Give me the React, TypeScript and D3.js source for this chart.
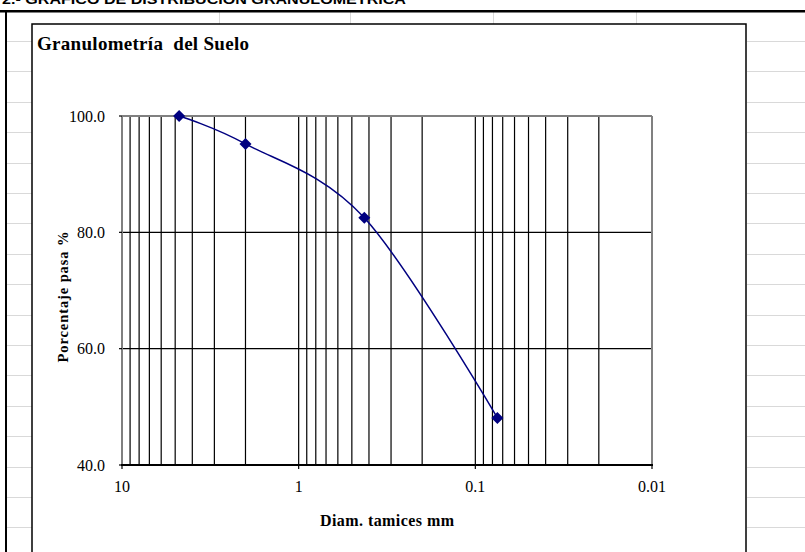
import React from 'react'
import * as d3 from 'd3'

// curva granulometrica
const sieveSizes = [4.75, 2.0, 0.425, 0.075]
const percentPassing = [100.0, 95.2, 82.5, 48.1]
const yTicks = [40, 60, 80, 100]
const xMajor = [10, 1, 0.1, 0.01]
const xTickLabels = ['10', '1', '0.1', '0.01']

const W = 805
const H = 552
const plot = { left: 122, right: 652, top: 116, bottom: 465 }
const sheetRowTop = 41
const sheetRowH = 30.4
const topRowCols = [219, 350, 493, 636]

const navy = '#000080'
const sheetGrid = '#d9d9d9'
const serif = '"Liberation Serif", "Times New Roman", serif'

const App = () => {
  const x = d3.scaleLog().domain([10, 0.01]).range([plot.left, plot.right])
  const y = d3.scaleLinear().domain([40, 100]).range([plot.bottom, plot.top])

  const minor = x.ticks().filter((v) => v < 9.99 && v > 0.0101)

  const pts: [number, number][] = sieveSizes.map((d, i) => [x(d), y(percentPassing[i])])
  const line = d3.line().curve(d3.curveCardinal.tension(0))(pts) || ''
  const marker = d3.symbol().type(d3.symbolSquare).size(72)() || ''

  const rows = d3.range(0, 17).map((i) => sheetRowTop + i * sheetRowH)

  return (
    <svg width={W} height={H} style={{ position: 'absolute', left: 0, top: 0, background: '#fff' }}>
      {/* hoja de calculo */}
      {rows.map((r, i) => (
        <g key={'r' + i}>
          <line x1={7} x2={32} y1={Math.round(r) + 0.5} y2={Math.round(r) + 0.5} stroke={sheetGrid} />
          <line x1={747} x2={W} y1={Math.round(r) + 0.5} y2={Math.round(r) + 0.5} stroke={sheetGrid} />
        </g>
      ))}
      {topRowCols.map((c) => (
        <line key={'c' + c} x1={c + 0.5} x2={c + 0.5} y1={12} y2={24} stroke={sheetGrid} />
      ))}
      <text
        x={2}
        y={4}
        fontFamily='"Liberation Sans", Arial, sans-serif'
        fontWeight="bold"
        fontSize={13}
        textLength={404}
        lengthAdjust="spacingAndGlyphs"
      >
        2.- GRAFICO DE DISTRIBUCION GRANULOMETRICA
      </text>
      <rect x={0} y={10} width={W} height={2.5} fill="#000" />
      <rect x={5} y={10} width={2} height={H} fill="#000" />

      {/* area del grafico */}
      <rect x={32} y={24} width={714} height={H} fill="#fff" stroke="#000" strokeWidth={1.5} />
      <text
        x={37}
        y={50}
        fontFamily={serif}
        fontWeight="bold"
        fontSize={19}
        textLength={212}
        lengthAdjust="spacing"
        style={{ whiteSpace: 'pre' }}
      >
        {'Granulometría  del Suelo'}
      </text>

      {/* rejilla */}
      {minor.map((v) => (
        <line key={'v' + v} x1={x(v)} x2={x(v)} y1={plot.top} y2={plot.bottom} stroke="#000" strokeWidth={1.2} />
      ))}
      {yTicks
        .filter((t) => t > 40 && t < 100)
        .map((t) => (
          <line key={'h' + t} x1={plot.left} x2={plot.right} y1={y(t)} y2={y(t)} stroke="#000" strokeWidth={1.2} />
        ))}
      <line x1={plot.left} x2={plot.right} y1={plot.top} y2={plot.top} stroke="#808080" strokeWidth={2} />
      <line x1={plot.left} x2={plot.left} y1={plot.top} y2={plot.bottom} stroke="#808080" strokeWidth={2} />
      <line x1={plot.right} x2={plot.right} y1={plot.top} y2={plot.bottom} stroke="#808080" strokeWidth={2} />

      {/* ejes */}
      <line x1={plot.left - 1} x2={plot.right + 1} y1={plot.bottom} y2={plot.bottom} stroke="#000" strokeWidth={1.8} />
      {xMajor.map((v, i) => (
        <g key={'xt' + v}>
          <line x1={x(v)} x2={x(v)} y1={plot.bottom} y2={plot.bottom + 4} stroke="#000" strokeWidth={1.2} />
          <text x={x(v)} y={492} textAnchor="middle" fontFamily={serif} fontSize={16}>
            {xTickLabels[i]}
          </text>
        </g>
      ))}
      {yTicks.map((t) => (
        <g key={'yt' + t}>
          <line x1={plot.left - 3} x2={plot.left} y1={y(t)} y2={y(t)} stroke="#000" strokeWidth={1.2} />
          <text x={105} y={y(t) + 5.5} textAnchor="end" fontFamily={serif} fontSize={16}>
            {d3.format('.1f')(t)}
          </text>
        </g>
      ))}
      <text
        x={(plot.left + plot.right) / 2}
        y={526}
        textAnchor="middle"
        fontFamily={serif}
        fontWeight="bold"
        fontSize={16}
        textLength={134}
        lengthAdjust="spacing"
      >
        Diam. tamices mm
      </text>
      <text
        transform={`translate(68,297) rotate(-90)`}
        textAnchor="middle"
        fontFamily={serif}
        fontWeight="bold"
        fontSize={14.5}
        textLength={131}
        lengthAdjust="spacing"
      >
        Porcentaje pasa %
      </text>

      {/* serie */}
      <path d={line} fill="none" stroke={navy} strokeWidth={1.5} />
      {pts.map((p, i) => (
        <path key={'m' + i} d={marker} transform={`translate(${p[0]},${p[1]}) rotate(45)`} fill={navy} />
      ))}
    </svg>
  )
}

export default App
